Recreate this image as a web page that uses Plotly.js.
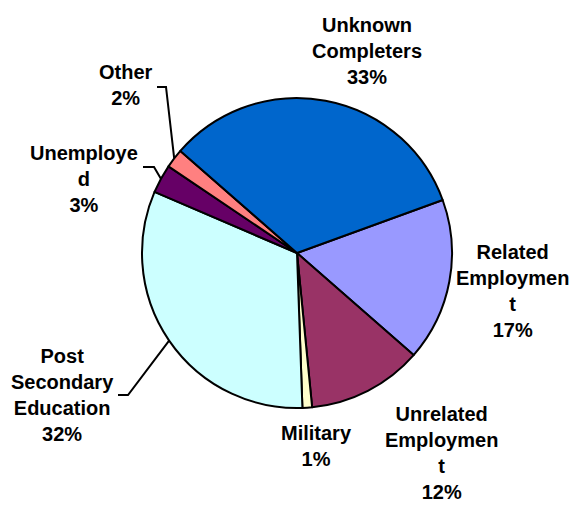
<!DOCTYPE html>
<html>
<head>
<meta charset="utf-8">
<script src="https://cdn.plot.ly/plotly-3.0.1.min.js"></script>
<style>html,body{margin:0;padding:0;background:#fff;}#chart{width:578px;height:508px;}</style>
</head>
<body>
<div id="chart"></div>
<script>
const categories = ["Related Employment", "Unrelated Employment", "Military", "Post Secondary Education", "Unemployed", "Other", "Unknown Completers"];
const wrappedLabels = ["Related<br>Employmen<br>t", "Unrelated<br>Employmen<br>t", "Military", "Post<br>Secondary<br>Education", "Unemploye<br>d", "Other", "Unknown<br>Completers"];
const values = [17, 12, 1, 32, 3, 2, 33];
const colors = ["#9999FF", "#993366", "#FFFFCC", "#CCFFFF", "#660066", "#FF8080", "#0066CC"];

// layout geometry (pixels)
const W = 578, H = 508;
const M = {l: 142, r: 126, t: 98, b: 100};
const PW = W - M.l - M.r, PH = H - M.t - M.b;
const ROT = 70;
const cx = M.l + PW / 2, cy = M.t + PH / 2, R = Math.min(PW, PH) / 2;
const px2x = p => (p - M.l) / PW;
const py2y = p => (H - M.b - p) / PH;

// label placement (pixel centres of each label block), in category order
const labelPos = [[512, 291], [441, 453], [316, 446], [62, 395], [84, 179], [126, 85], [367, 51]];
// leader-line stubs: [category index, stub start x, stub end x, stub y]
const leaders = [[3, 118, 128, 395], [4, 143, 154, 167], [5, 157, 166, 87]];

const total = values.reduce((a, b) => a + b, 0);
const midAngles = [];
let cum = 0;
values.forEach(v => { midAngles.push(ROT + 360 * (cum + v / 2) / total); cum += v; });

const font = {family: "Liberation Sans, Arial, sans-serif", size: 20, color: "#000000", weight: "bold"};

const annotations = categories.map((c, i) => ({
  xref: "paper", yref: "paper",
  x: px2x(labelPos[i][0]), y: py2y(labelPos[i][1]),
  xanchor: "center", yanchor: "middle", align: "center",
  text: "<b>" + wrappedLabels[i] + "<br>" + Math.round(values[i] / total * 100) + "%</b>",
  showarrow: false, font: font
}));

const shapes = leaders.map(([i, x0, x1, y]) => {
  const a = midAngles[i] * Math.PI / 180;
  const ex = cx + R * Math.sin(a), ey = cy - R * Math.cos(a);
  return {
    type: "path", xref: "paper", yref: "paper",
    path: `M ${px2x(x0)} ${py2y(y)} L ${px2x(x1)} ${py2y(y)} L ${px2x(ex)} ${py2y(ey)}`,
    line: {color: "#000000", width: 2}
  };
});

const trace = {
  type: "pie",
  labels: categories,
  values: values,
  textinfo: "none",
  sort: false,
  direction: "clockwise",
  rotation: ROT,
  marker: {colors: colors, line: {color: "#000000", width: 2}},
  hoverinfo: "label+percent",
  automargin: false
};

const layout = {
  width: W,
  height: H,
  margin: M,
  showlegend: false,
  paper_bgcolor: "#ffffff",
  plot_bgcolor: "#ffffff",
  annotations: annotations,
  shapes: shapes
};

Plotly.newPlot("chart", [trace], layout, {displayModeBar: false, staticPlot: true});
</script>
</body>
</html>
